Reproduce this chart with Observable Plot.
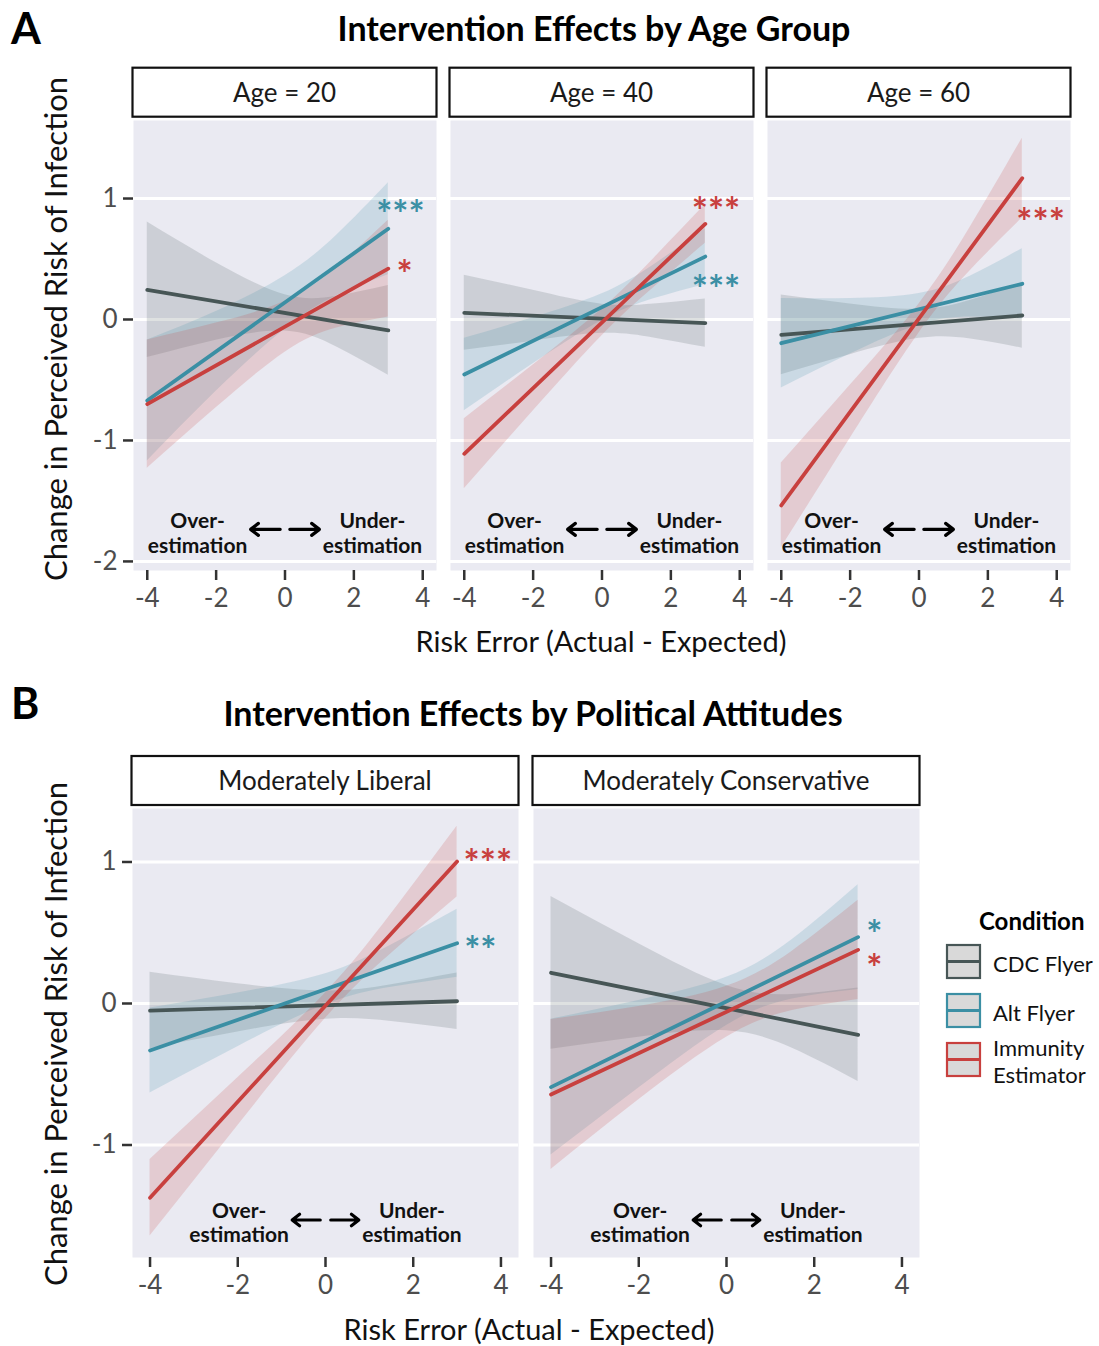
<!DOCTYPE html>
<html><head><meta charset="utf-8">
<script src="https://cdn.jsdelivr.net/npm/d3@7"></script>
<script src="https://cdn.jsdelivr.net/npm/@observablehq/plot@0.6"></script>
<style>
html,body{margin:0;padding:0;background:#fff;}
#root{position:relative;width:1099px;height:1346px;overflow:hidden;font-family:Lato,sans-serif;}
</style></head>
<body><div id="root"></div>
<script>
// ---------------- data ----------------
const conditions = ["CDC Flyer", "Alt Flyer", "Immunity Estimator"];
const conditionColors = ["#475656", "#3b8fa4", "#c8403e"];
const ageFacets = ["Age = 20", "Age = 40", "Age = 60"];
const politicsFacets = ["Moderately Liberal", "Moderately Conservative"];
const fitX = [-4, 3];
const bandX = [-4, -2, 0, 1.5, 3];
const xTicks = [-4, -2, 0, 2, 4];
const ageYTicks = [-2, -1, 0, 1];
const polYTicks = [-1, 0, 1];
const directionLabels = ["Over-\nestimation", "Under-\nestimation"];

// fitted lines: [y at x=-4, y at x=3] per facet
const ageFitCdc = [[0.245, -0.09], [0.055, -0.03], [-0.127, 0.033]];
const ageFitAlt = [[-0.67, 0.75], [-0.455, 0.52], [-0.196, 0.295]];
const ageFitImm = [[-0.70, 0.42], [-1.11, 0.79], [-1.537, 1.168]];
// confidence bands at bandX, per facet
const ageLowCdc = [[-0.315,-0.171,-0.096,-0.228,-0.46],[-0.255,-0.179,-0.114,-0.152,-0.23],[-0.457,-0.291,-0.156,-0.161,-0.237]];
const ageHighCdc = [[0.805,0.469,0.204,0.192,0.28],[0.365,0.241,0.126,0.128,0.17],[0.203,0.129,0.084,0.159,0.303]];
const ageLowAlt = [[-1.17,-0.594,-0.079,0.196,0.37],[-0.755,-0.366,-0.008,0.171,0.29],[-0.566,-0.286,-0.045,0.02,0.005]];
const ageHighAlt = [[-0.17,0.066,0.361,0.696,1.13],[-0.155,0.014,0.212,0.451,0.75],[0.174,0.174,0.215,0.36,0.585]];
const ageLowImm = [[-1.23,-0.73,-0.27,-0.07,0.02],[-1.40,-0.757,-0.134,0.263,0.63],[-1.887,-0.984,-0.111,0.408,0.838]];
const ageHighImm = [[-0.17,-0.03,0.15,0.43,0.82],[-0.82,-0.377,0.086,0.503,0.95],[-1.187,-0.544,0.129,0.768,1.498]];

const polFitCdc = [[-0.05, 0.016], [0.217, -0.221]];
const polFitAlt = [[-0.332, 0.426], [-0.591, 0.469]];
const polFitImm = [[-1.373, 1.003], [-0.643, 0.379]];
const polLowCdc = [[-0.32,-0.201,-0.112,-0.128,-0.184],[-0.323,-0.238,-0.193,-0.317,-0.551]];
const polHighCdc = [[0.22,0.139,0.088,0.132,0.216],[0.757,0.422,0.127,0.063,0.109]];
const polLowAlt = [[-0.632,-0.305,-0.009,0.114,0.186],[-1.071,-0.598,-0.155,0.032,0.099]];
const polHighAlt = [[-0.032,0.075,0.211,0.414,0.666],[-0.111,0.022,0.185,0.452,0.839]];
const polLowImm = [[-1.643,-0.864,-0.105,0.354,0.753],[-1.173,-0.681,-0.239,-0.05,0.029]];
const polHighImm = [[-1.103,-0.524,0.075,0.634,1.253],[-0.113,-0.021,0.121,0.37,0.729]];

// significance stars
const ageStarFacet = [0, 0, 1, 1, 2];
const ageStarCond = [1, 2, 2, 1, 2];
const ageStarText = ["***", "*", "***", "***", "***"];
const ageStarX = [3.35, 3.47, 3.31, 3.31, 3.53];
const ageStarY = [0.928, 0.434, 0.959, 0.311, 0.868];
const polStarFacet = [0, 0, 1, 1];
const polStarCond = [2, 1, 1, 2];
const polStarText = ["***", "**", "*", "*"];
const polStarX = [3.70, 3.53, 3.37, 3.37];
const polStarY = [1.042, 0.431, 0.541, 0.304];

// ---------------- build ----------------
const FONT = "Lato, sans-serif";
const root = document.getElementById("root");

function makePanel(cfg) {
  const {facets, fits, lows, highs, starFacet, starCond, starText, starX, starY} = cfg;
  const bands = [], lines = [], annots = [], arrows = [], stars = [];
  facets.forEach((f, fi) => {
    conditions.forEach((c, ci) => {
      bandX.forEach((x, k) => bands.push({facet: f, cond: c, x, lo: lows[ci][fi][k], hi: highs[ci][fi][k]}));
      fitX.forEach((x, k) => lines.push({facet: f, cond: c, x, y: fits[ci][fi][k]}));
    });
    annots.push({facet: f, x: -cfg.annotX, y: cfg.annotY, text: directionLabels[0]});
    annots.push({facet: f, x: cfg.annotX, y: cfg.annotY, text: directionLabels[1]});
    arrows.push({facet: f, x1: -cfg.arrowX[0], x2: -cfg.arrowX[1], y: cfg.arrowY});
    arrows.push({facet: f, x1: cfg.arrowX[0], x2: cfg.arrowX[1], y: cfg.arrowY});
  });
  starText.forEach((t, i) => stars.push({facet: facets[starFacet[i]], cond: conditions[starCond[i]], x: starX[i], y: starY[i], text: t}));

  return Plot.plot({
    width: cfg.width, height: cfg.height,
    marginTop: cfg.marginTop, marginBottom: cfg.marginBottom,
    marginLeft: cfg.marginLeft, marginRight: cfg.marginRight,
    style: {fontFamily: FONT, background: "transparent", overflow: "visible"},
    x: {domain: [-4.4, 4.4], label: null},
    y: {domain: cfg.yDomain, label: null},
    fx: {domain: facets, paddingInner: cfg.fxPad, paddingOuter: 0, axis: null, label: null},
    color: {domain: conditions, range: conditionColors},
    marks: [
      Plot.frame({fill: "#EAEAF2", stroke: "none"}),
      Plot.gridY(cfg.yTicks, {stroke: "#ffffff", strokeOpacity: 1, strokeWidth: 3}),
      Plot.areaY(bands, {fx: "facet", x: "x", y1: "lo", y2: "hi", z: "cond", fill: "cond", fillOpacity: 0.18, curve: "natural"}),
      Plot.line(lines, {fx: "facet", x: "x", y: "y", z: "cond", stroke: "cond", strokeWidth: 3.8}),
      Plot.text(annots, {fx: "facet", x: "x", y: "y", text: "text", fontSize: 21, fontWeight: "bold", lineHeight: 1.17, fill: "#111"}),
      Plot.arrow(arrows, {fx: "facet", x1: "x1", x2: "x2", y1: "y", y2: "y", stroke: "#000", strokeWidth: 3.2, headLength: 11, headAngle: 75}),
      Plot.text(stars, {fx: "facet", x: "x", y: "y", text: "text", fill: "cond", fontSize: 38, fontWeight: "bold", dy: 9}),
      Plot.axisX(xTicks, {tickSize: 10, tickPadding: 8, stroke: "#333", strokeWidth: 2.5, fill: "#4d4d4d", fontSize: 26, tickFormat: d => String(d), label: null}),
      Plot.axisY(cfg.yTicks, {tickSize: 10, tickPadding: 6, stroke: "#333", strokeWidth: 2.5, fill: "#4d4d4d", fontSize: 26, tickFormat: d => String(d), label: null})
    ]
  });
}

const cfgA = {
  facets: ageFacets, fits: [ageFitCdc, ageFitAlt, ageFitImm],
  lows: [ageLowCdc, ageLowAlt, ageLowImm], highs: [ageHighCdc, ageHighAlt, ageHighImm],
  starFacet: ageStarFacet, starCond: ageStarCond, starText: ageStarText, starX: ageStarX, starY: ageStarY,
  width: 1099, height: 570, marginTop: 20, marginBottom: 100, marginLeft: 133, marginRight: 29,
  fxPad: 0.0442, yDomain: [-2.075, 1.645], yTicks: ageYTicks,
  annotX: 2.54, annotY: -1.764, arrowX: [0.14, 1.0], arrowY: -1.735
};
const cfgB = {
  facets: politicsFacets, fits: [polFitCdc, polFitAlt, polFitImm],
  lows: [polLowCdc, polLowAlt, polLowImm], highs: [polHighCdc, polHighAlt, polHighImm],
  starFacet: polStarFacet, starCond: polStarCond, starText: polStarText, starX: polStarX, starY: polStarY,
  width: 1099, height: 558, marginTop: 20, marginBottom: 89, marginLeft: 132, marginRight: 179,
  fxPad: 0.0374, yDomain: [-1.795, 1.378], yTicks: polYTicks,
  annotX: 1.97, annotY: -1.545, arrowX: [0.12, 0.76], arrowY: -1.53
};

const topA = 100, topB = 788;
const plotA = makePanel(cfgA);
const plotB = makePanel(cfgB);

// overlay for titles, strips, axis titles, legend
const ov = d3.create("svg").attr("width", 1099).attr("height", 1346)
  .style("position", "absolute").style("left", "0px").style("top", "0px")
  .style("font-family", FONT);
root.appendChild(ov.node());
[[plotA, topA], [plotB, topB]].forEach(([p, t]) => {
  p.style.position = "absolute"; p.style.left = "0px"; p.style.top = t + "px";
  root.appendChild(p);
});

function strips(plot, facets, cfg, y0, h) {
  const fx = plot.scale("fx");
  const n = facets.length;
  const range = cfg.width - cfg.marginLeft - cfg.marginRight;
  const step = fx.step || range / (n - cfg.fxPad);
  const bw = fx.bandwidth || step * (1 - cfg.fxPad);
  facets.forEach((f, i) => {
    const left = fx.apply ? fx.apply(f) : cfg.marginLeft + i * step;
    ov.append("rect").attr("x", left - 0.5).attr("y", y0).attr("width", bw + 1).attr("height", h)
      .attr("fill", "#fff").attr("stroke", "#111").attr("stroke-width", 2.2);
    ov.append("text").attr("x", left + bw / 2).attr("y", y0 + h / 2 + 9.5)
      .attr("text-anchor", "middle").attr("font-size", 26).attr("fill", "#1a1a1a").text(f);
  });
}
strips(plotA, ageFacets, cfgA, 67.7, 49);
strips(plotB, politicsFacets, cfgB, 756, 49);

function txt(x, y, s, size, opts = {}) {
  const t = ov.append("text").attr("x", x).attr("y", y).attr("font-size", size)
    .attr("fill", opts.fill || "#000").attr("text-anchor", opts.anchor || "start")
    .attr("font-weight", opts.weight || "normal").text(s);
  if (opts.rotate) t.attr("transform", `rotate(-90 ${x} ${y})`);
  return t;
}
// panel letters and titles
txt(11, 44, "A", 43, {weight: "bold"});
txt(594, 41, "Intervention Effects by Age Group", 34, {weight: "bold", anchor: "middle"});
txt(11, 719, "B", 43, {weight: "bold"});
txt(533, 726, "Intervention Effects by Political Attitudes", 34, {weight: "bold", anchor: "middle"});
// axis titles
txt(67, 329, "Change in Perceived Risk of Infection", 31, {anchor: "middle", rotate: true, fill: "#111"});
txt(67, 1034, "Change in Perceived Risk of Infection", 31, {anchor: "middle", rotate: true, fill: "#111"});
txt(601, 652, "Risk Error (Actual - Expected)", 29, {anchor: "middle", fill: "#111"});
txt(529, 1340, "Risk Error (Actual - Expected)", 29, {anchor: "middle", fill: "#111"});

// legend
txt(979, 930, "Condition", 24, {weight: "bold"});
const legendLabels = [["CDC Flyer"], ["Alt Flyer"], ["Immunity", "Estimator"]];
conditions.forEach((c, i) => {
  const y = 945 + i * 49;
  ov.append("rect").attr("x", 947).attr("y", y).attr("width", 33).attr("height", 33)
    .attr("fill", "#d9d9d9").attr("stroke", conditionColors[i]).attr("stroke-width", 2.2);
  ov.append("line").attr("x1", 948).attr("x2", 979).attr("y1", y + 16.5).attr("y2", y + 16.5)
    .attr("stroke", conditionColors[i]).attr("stroke-width", 3);
  const lab = legendLabels[i];
  if (lab.length === 1) txt(993, y + 27, lab[0], 22, {fill: "#111"});
  else { txt(993, y + 13, lab[0], 22, {fill: "#111"}); txt(993, y + 40, lab[1], 22, {fill: "#111"}); }
});
</script>
</body></html>
